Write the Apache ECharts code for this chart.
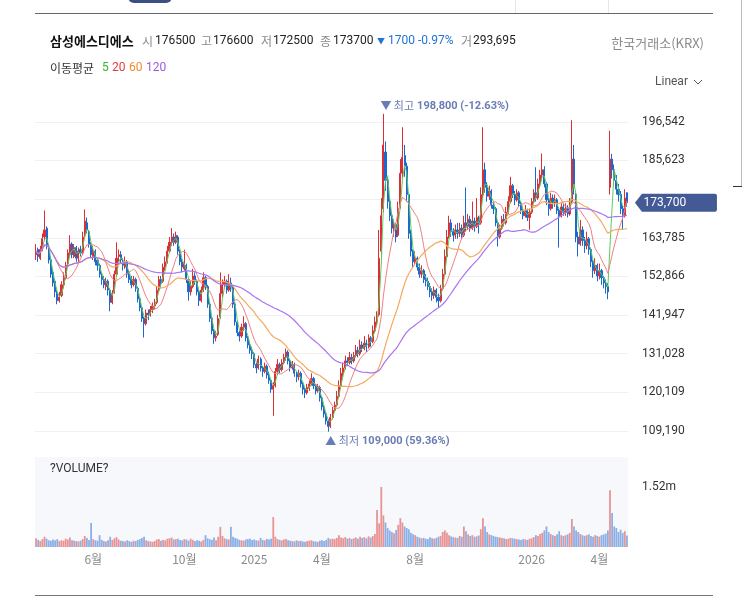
<!DOCTYPE html>
<html><head><meta charset="utf-8">
<script src="https://cdn.jsdelivr.net/npm/echarts@6/dist/echarts.min.js"></script>
<style>html,body{margin:0;padding:0;background:#fff;}#c{width:742px;height:609px;}</style>
</head><body><div id="c"></div>
<script>
// ---- data (prices in 1,000 KRW; each candle = 2 trading days) ----
const startDate = '2024-03-19';
const weekdaysPerCandle = 2;
const tickMonths = ['2024-06','2024-10','2025-01','2025-04','2025-08','2026-01','2026-04'];
const maDays = [5,20,60,120];
const maColors = ['#5fcc5f','#f08080','#f5a860','#a874f2'];

const opens = [
159.0,160.5,158.0,160.5,164.0,166.5,161.0,157.5,154.0,151.5,
148.0,146.0,147.5,150.5,152.5,156.5,159.0,162.0,158.5,161.0,
158.0,160.5,159.5,164.5,168.0,165.5,162.0,158.5,160.0,157.5,
156.0,153.0,152.0,150.0,151.5,149.0,145.5,148.5,153.5,158.5,
159.0,157.0,155.5,157.0,153.5,152.5,150.5,152.0,149.5,146.5,
144.0,141.0,139.5,142.5,142.0,143.5,144.5,145.5,149.0,152.0,
151.5,155.5,157.0,160.0,162.5,164.0,162.5,164.0,160.0,157.0,
155.0,156.0,152.0,148.5,150.0,153.0,151.5,148.5,146.0,149.0,
152.5,150.0,145.0,141.0,137.5,135.5,136.5,141.5,148.0,150.5,
151.5,149.0,151.0,150.0,145.0,140.0,137.0,136.0,138.5,139.5,
135.5,133.5,132.0,131.0,128.0,127.0,129.5,127.0,126.0,127.5,
125.0,123.5,121.0,122.0,126.0,128.0,126.5,128.5,130.0,131.5,
129.0,127.0,128.0,125.5,124.5,125.5,122.5,121.0,120.0,121.5,
122.5,124.0,122.0,120.5,121.5,118.5,116.0,114.0,112.0,110.5,
113.0,115.0,116.5,119.0,122.0,125.5,127.0,129.0,128.5,130.0,
129.0,130.5,132.0,131.0,133.5,132.5,134.0,133.0,135.5,134.5,
137.5,140.0,142.0,160.0,172.0,188.0,180.0,174.0,170.0,166.5,
167.5,164.5,172.5,182.0,187.0,184.0,176.0,165.0,160.0,157.0,
158.0,155.5,153.5,154.5,152.0,151.5,150.0,148.5,147.5,149.0,
147.0,146.0,149.5,153.5,158.5,164.0,168.0,165.5,164.5,166.0,
165.0,166.5,164.5,168.0,167.0,169.0,166.5,168.5,167.0,169.5,
168.0,176.0,183.0,178.0,175.5,177.0,173.0,172.0,168.0,164.0,
166.5,169.0,168.0,171.0,174.0,178.5,176.0,174.5,176.5,173.5,
171.5,170.0,171.5,169.5,171.0,174.0,176.5,175.0,179.0,181.5,
183.0,179.0,174.5,172.0,175.0,173.5,174.5,171.5,170.0,172.5,
171.0,172.0,170.5,174.0,186.0,176.0,164.0,162.0,166.0,163.0,
161.5,163.5,160.5,157.0,154.5,156.0,153.0,154.5,152.5,151.0,
150.0,178.0,186.0,183.0,180.0,177.5,176.0,172.0,170.0,176.5];

const closes = [
160.0,158.5,160.5,163.5,166.0,161.5,157.5,153.5,151.0,148.5,
146.0,147.0,150.5,152.5,156.0,159.5,162.0,159.0,161.0,158.0,
160.0,159.5,164.0,168.5,166.0,162.0,159.0,160.0,157.0,156.0,
153.5,152.0,150.5,151.5,149.0,145.5,148.0,153.5,158.0,159.0,
157.5,156.0,157.0,153.5,152.0,150.5,152.0,149.5,146.5,144.0,
141.0,139.5,142.5,142.0,143.5,144.5,145.5,149.0,152.0,151.0,
155.5,157.0,160.0,162.5,164.0,162.5,164.5,160.0,157.0,155.5,
156.5,152.0,148.5,150.0,153.0,151.5,148.5,146.0,149.0,152.5,
150.0,145.0,141.0,137.5,135.5,136.0,141.0,148.0,150.5,151.5,
149.0,151.0,150.0,145.0,140.0,137.0,136.0,138.5,139.5,135.5,
133.5,132.0,131.0,128.0,127.0,129.5,127.0,126.0,127.5,125.0,
123.5,121.0,122.0,126.0,128.0,126.5,128.5,130.0,131.5,129.0,
127.0,128.0,125.5,124.5,125.5,122.5,121.0,120.0,121.5,122.5,
124.0,122.0,120.5,121.5,118.5,116.0,114.0,112.0,110.5,113.0,
115.0,116.5,119.0,122.0,125.5,127.0,129.0,128.5,130.0,129.0,
130.5,132.0,131.0,133.5,132.5,134.0,133.0,135.5,134.5,137.5,
140.0,141.0,158.0,170.0,190.0,180.0,174.0,170.0,166.5,167.5,
164.0,172.0,182.0,186.5,184.0,176.0,165.0,160.0,157.0,158.0,
155.5,153.5,154.5,152.0,151.5,150.0,148.5,147.5,149.0,147.0,
146.0,149.5,153.5,158.5,164.0,168.0,165.5,164.5,166.0,165.0,
166.5,164.5,168.0,167.0,169.0,166.5,168.5,167.0,169.5,167.5,
176.0,183.0,178.0,175.5,177.0,173.0,172.0,168.0,164.0,166.5,
169.0,168.0,171.0,174.0,178.5,176.0,174.5,176.5,173.5,171.5,
170.0,171.5,169.5,171.0,174.0,176.5,175.0,179.0,181.5,183.0,
179.0,174.5,172.0,175.0,173.5,174.5,171.5,170.0,172.5,171.0,
172.0,170.5,173.0,186.0,178.0,164.0,162.0,166.0,163.0,161.5,
163.5,160.5,157.0,154.5,156.0,153.0,154.5,152.5,151.0,150.0,
148.5,186.0,183.0,180.0,177.5,176.0,172.0,170.0,175.0,173.7];

const lows = [
157.5,157.0,157.5,160.0,163.0,160.5,156.5,152.5,150.0,147.0,
145.0,145.5,147.0,149.5,152.0,155.5,158.5,158.0,158.0,157.0,
157.0,158.5,159.0,164.0,165.0,161.0,158.0,157.5,156.0,154.5,
152.5,150.5,149.5,149.0,147.5,143.0,145.0,148.0,153.0,157.0,
156.5,154.5,155.0,152.5,151.0,149.5,150.0,148.5,145.5,143.0,
140.0,135.6,139.0,140.5,141.5,142.5,143.5,145.0,148.5,149.5,
151.0,154.5,156.5,159.5,161.5,161.5,162.0,159.0,156.0,154.0,
154.5,151.0,146.0,147.5,149.5,150.5,147.5,144.5,145.5,148.5,
149.0,144.0,140.0,136.5,133.8,134.5,136.0,141.0,147.0,149.5,
148.0,148.5,148.5,144.0,139.0,136.0,134.5,135.5,137.5,134.5,
132.5,131.0,129.5,127.0,125.5,126.5,126.0,124.5,125.5,124.0,
122.5,120.0,113.5,121.5,125.0,125.5,126.0,128.0,129.0,128.0,
126.0,126.5,124.5,123.0,123.5,121.5,119.5,118.5,119.5,120.5,
122.0,121.0,119.5,120.0,117.5,115.0,113.0,111.0,109.0,110.0,
112.5,114.5,116.0,118.5,121.0,124.5,126.5,127.5,128.0,128.0,
128.5,130.0,130.0,130.5,131.5,132.0,131.5,132.5,133.0,134.0,
137.0,139.0,141.5,158.0,171.0,177.0,172.0,168.5,165.0,164.0,
162.5,164.0,172.0,180.5,181.0,174.0,163.5,158.5,155.5,156.0,
154.5,152.5,152.5,151.0,150.0,149.0,147.0,146.0,146.5,145.5,
144.2,145.5,149.0,153.0,158.0,163.5,164.0,162.7,163.5,163.5,
164.0,163.5,164.0,165.5,166.0,165.5,166.0,165.5,166.5,165.0,
167.5,175.0,176.5,174.0,174.5,172.0,170.5,167.0,161.3,163.5,
166.0,167.0,167.5,170.5,173.5,175.0,173.0,174.0,172.5,170.5,
169.0,169.5,168.5,166.0,170.5,173.5,174.0,174.5,178.0,180.0,
178.0,173.0,170.0,171.5,172.0,172.5,170.5,161.0,169.5,170.0,
170.0,169.5,170.0,173.5,176.0,162.5,158.5,161.5,161.5,159.5,
160.5,159.0,155.5,152.5,153.5,151.5,152.0,150.5,149.5,148.0,
146.4,176.0,180.5,178.5,176.0,174.0,170.5,166.0,169.5,172.5];

const highs = [
162.0,161.0,161.5,165.0,171.5,167.0,162.0,158.5,155.0,152.0,
149.0,148.5,151.5,154.0,157.0,160.5,164.5,162.5,162.0,161.5,
161.0,161.5,165.5,171.8,169.5,166.0,162.5,161.5,160.5,158.0,
156.5,154.0,153.0,152.5,152.0,149.5,149.0,154.5,162.5,160.5,
160.0,158.0,158.5,157.5,154.5,153.0,153.0,152.5,150.0,147.0,
144.5,141.5,143.5,143.5,144.5,145.5,146.5,150.0,153.0,153.0,
156.5,158.5,161.5,164.0,166.5,165.0,165.5,164.5,160.5,158.0,
160.4,156.5,152.5,151.5,155.0,154.0,152.0,149.0,150.0,154.0,
153.0,150.5,145.5,141.5,138.0,137.5,142.0,154.0,152.0,153.0,
152.0,153.5,152.5,150.5,145.5,140.5,137.5,139.5,141.6,140.0,
136.0,134.5,133.0,131.5,128.5,130.5,130.0,127.5,128.5,128.0,
126.0,124.0,123.0,127.0,129.5,128.5,129.5,131.0,132.5,132.0,
129.5,129.0,128.5,126.0,126.5,126.0,123.0,121.5,122.5,123.5,
125.5,124.5,122.5,122.5,122.0,119.0,116.5,114.5,112.5,114.0,
116.0,117.5,120.5,123.5,127.0,128.5,130.5,130.0,131.5,131.0,
131.5,133.5,133.0,135.0,134.5,136.0,135.0,136.5,136.0,139.0,
141.5,143.0,166.0,175.0,198.8,191.0,181.0,175.0,171.0,169.0,
168.0,174.0,186.0,195.0,190.0,185.0,176.5,166.0,160.5,160.0,
158.5,156.5,156.0,155.0,153.5,152.5,151.0,149.5,150.0,149.5,
148.0,150.5,155.0,160.5,166.0,170.0,169.0,166.5,167.5,168.0,
168.0,167.5,170.0,178.0,170.5,170.0,174.0,169.5,175.0,170.0,
178.0,195.0,185.0,179.5,178.5,177.5,174.0,172.5,168.5,167.5,
170.0,170.5,172.5,175.5,181.0,179.0,177.0,177.5,177.0,174.0,
172.0,173.0,172.0,172.0,175.0,177.5,183.7,180.5,183.0,187.6,
184.0,179.5,175.0,176.5,176.0,176.0,175.0,172.0,173.5,173.5,
173.5,173.0,175.0,197.0,190.0,176.5,165.5,168.8,167.0,164.0,
165.5,164.0,161.0,157.5,158.0,156.5,156.5,155.0,153.0,152.0,
151.0,194.0,187.5,184.5,181.5,179.0,177.0,173.0,177.5,176.6];

// volume in thousand shares
const volumes = [
220,180,150,200,260,210,170,160,190,170,
200,150,170,160,210,190,240,170,160,150,
140,160,200,280,230,180,610,200,170,160,
300,180,150,140,170,260,180,220,250,190,
160,150,140,170,150,130,160,150,180,200,
230,260,170,150,140,130,150,190,200,160,
180,170,210,220,240,190,200,210,180,170,
200,190,160,210,180,150,170,160,140,180,
300,220,200,180,240,170,260,510,280,220,
200,190,510,260,230,210,180,170,160,190,
200,210,180,190,170,160,230,180,170,200,
190,210,760,260,200,180,170,190,200,170,
160,150,140,170,150,160,140,130,150,160,
170,150,140,130,160,170,150,180,230,200,
210,200,230,300,240,220,250,210,230,200,
220,240,210,260,230,250,220,270,240,280,
330,940,600,1520,800,620,480,420,380,350,
430,560,730,620,520,480,450,360,320,300,
260,240,220,230,210,200,250,220,210,230,
260,280,380,420,360,300,270,250,240,230,
280,260,520,400,320,280,300,260,270,290,
450,730,520,380,320,300,280,260,250,240,
230,220,200,210,230,220,210,200,190,180,
200,190,180,210,220,250,300,280,330,360,
420,520,380,330,300,280,320,400,300,280,
300,320,360,710,520,420,380,330,300,280,
300,320,280,260,300,280,260,300,320,340,
420,1440,860,520,480,380,440,360,400,294];

// ---- build ----
const N = closes.length;
function buildDates(n){
  const out=[]; const d=new Date(startDate+'T00:00:00Z'); let w=0;
  while(out.length<n){
    const wd=d.getUTCDay();
    if(wd!==0&&wd!==6){ if(w%weekdaysPerCandle===0) out.push(d.toISOString().slice(0,10)); w++; }
    d.setUTCDate(d.getUTCDate()+1);
  }
  return out;
}
const dates = buildDates(N);
const labelIdx = new Set(tickMonths.map(m=>dates.findIndex(s=>s.startsWith(m))));
const K = v=>Math.round(v*1000);
const candleData = opens.map((o,i)=>[K(o),K(closes[i]),K(lows[i]),K(highs[i])]);
function movingAverage(days){
  const p=Math.round(days/weekdaysPerCandle);
  return closes.map((_,i)=>{const s=Math.max(0,i-p+1);let sum=0;for(let k=s;k<=i;k++)sum+=closes[k];return Math.round(sum/(i-s+1)*1000);});
}
const UP='#dc2f35', DOWN='#1b68cf';
const volData = volumes.map((v,i)=>({value:v, itemStyle:{color: closes[i]>=opens[i]?'rgba(228,122,122,0.8)':'rgba(112,158,224,0.8)'}}));

let hi=0, lo=0;
highs.forEach((h,i)=>{if(h>highs[hi])hi=i;}); lows.forEach((l,i)=>{if(l<lows[lo])lo=i;});
const last = N-1;
const lastClose = K(closes[last]);
const fmt = v=>v.toLocaleString('en-US');
const hiPct = ((closes[last]-highs[hi])/highs[hi]*100).toFixed(2);
const loPct = ((closes[last]-lows[lo])/lows[lo]*100).toFixed(2);
const tagLevel = 174704; // grid level hidden behind the last-price tag

const FONT = 'Roboto, "Noto Sans CJK KR", sans-serif';
const KFONT = '"Noto Sans CJK KR", Roboto, sans-serif';
function T(x,y,text,size,color,weight,align,fam){
  return {type:'text', x:x, y:y, silent:true, style:{text:text, fontSize:size, fontFamily:fam||KFONT, fontWeight:weight||'normal', fill:color, align:align||'left', verticalAlign:'middle'}};
}
function L(x1,y1,x2,y2,c,w){return {type:'line', silent:true, shape:{x1,y1,x2,y2}, style:{stroke:c, lineWidth:w||1}};}

const chart = echarts.init(document.getElementById('c'), null, {renderer:'canvas'});
const gridTop = 83.15, gridH = 386.5;
chart.setOption({
  animation:false,
  backgroundColor:'#fff',
  textStyle:{fontFamily:FONT},
  grid:[
    {left:35, right:114, top:gridTop, height:gridH},
    {left:35, right:114, top:457, height:90, show:true, backgroundColor:'#f7f8fb', borderWidth:0}
  ],
  xAxis:[
    {type:'category', gridIndex:0, data:dates, boundaryGap:true, axisLine:{show:false}, axisTick:{show:false}, axisLabel:{show:false}, splitLine:{show:false}},
    {type:'category', gridIndex:1, data:dates, boundaryGap:true, axisLine:{show:false}, axisTick:{show:false},
     axisLabel:{interval:(i)=>labelIdx.has(i), color:'#8a8a8a', fontSize:12, margin:6, fontFamily:KFONT,
       formatter:(v)=>{const p=v.split('-');return p[1]==='01'?p[0]:(+p[1])+'월';}}, splitLine:{show:false}}
  ],
  yAxis:[
    {type:'value', gridIndex:0, position:'right', min:98271, max:207461, interval:10919,
     axisLine:{show:false}, axisTick:{show:false},
     axisLabel:{color:'#333', fontSize:12, margin:14, showMinLabel:false, showMaxLabel:false, formatter:v=>v===tagLevel?'':fmt(v)},
     splitLine:{show:true, showMinLine:false, showMaxLine:false, lineStyle:{color:'#eef0f3', width:1}}},
    {type:'value', gridIndex:1, position:'right', min:0, max:2280,
     axisLine:{show:false}, axisTick:{show:false}, splitLine:{show:false},
     axisLabel:{customValues:[1520], color:'#333', fontSize:12, margin:14, formatter:()=> '1.52m'}}
  ],
  series:[
    {type:'candlestick', name:'price', xAxisIndex:0, yAxisIndex:0, data:candleData, barWidth:1.6, z:2,
     itemStyle:{color:UP, color0:DOWN, borderColor:UP, borderColor0:DOWN, borderWidth:1},
     markPoint:{silent:true, animation:false, data:[
       {coord:[dates[hi], K(highs[hi])], symbol:'circle', symbolSize:1, itemStyle:{color:'rgba(0,0,0,0)'},
        label:{show:true, position:'top', distance:1, align:'left', offset:[-3,0],
          formatter:'{a|▼ 최고} {b|'+fmt(K(highs[hi]))+' ('+hiPct+'%)}',
          rich:{a:{color:'#6a7cb4', fontSize:11, fontFamily:KFONT}, b:{color:'#6a7cb4', fontSize:11, fontWeight:'bold', fontFamily:FONT}}}},
       {coord:[dates[lo], K(lows[lo])], symbol:'circle', symbolSize:1, itemStyle:{color:'rgba(0,0,0,0)'},
        label:{show:true, position:'bottom', distance:3, align:'left', offset:[-3,0],
          formatter:'{a|▲ 최저} {b|'+fmt(K(lows[lo]))+' ('+loPct+'%)}',
          rich:{a:{color:'#6a7cb4', fontSize:11, fontFamily:KFONT}, b:{color:'#6a7cb4', fontSize:11, fontWeight:'bold', fontFamily:FONT}}}},
       {coord:[dates[last], lastClose], symbol:'path://M0,9L7,0L80,0Q82,0 82,2L82,16Q82,18 80,18L7,18Z', symbolSize:[82,18], symbolOffset:[49,0], symbolKeepAspect:false,
        itemStyle:{color:'#435a96'},
        label:{show:true, position:'inside', color:'#fff', fontSize:12, offset:[-11,0], formatter:fmt(lastClose)}}
     ]}},
    ...maDays.map((d,k)=>({type:'line', name:'MA'+d, xAxisIndex:0, yAxisIndex:0, data:movingAverage(d), showSymbol:false, symbol:'none', z:3+k,
       lineStyle:{color:maColors[k], width:k>=2?1.2:1}, silent:true})),
    {type:'bar', name:'volume', xAxisIndex:1, yAxisIndex:1, data:volData, barWidth:1.8, silent:true}
  ],
  graphic:[
    L(35,13.5,713,13.5,'#666',1),
    L(35,595.5,713,595.5,'#777',1),
    L(515.5,0,515.5,13,'#e6e6e6',1),
    L(608.5,0,608.5,13,'#e6e6e6',1),
    L(741.5,0,741.5,186,'#bbb',1),
    L(733,186.5,742,186.5,'#333',1),
    {type:'rect', silent:true, shape:{x:128,y:-10,width:44,height:13,r:6}, style:{fill:'#3c4f85'}},
    T(50,41,'삼성에스디에스',13,'#111','bold'),
    T(142,41,'시',12,'#8a8a8a'), T(155,41,'176500',12,'#222','normal','left',FONT),
    T(201,41,'고',12,'#8a8a8a'), T(213,41,'176600',12,'#222','normal','left',FONT),
    T(261,41,'저',12,'#8a8a8a'), T(273,41,'172500',12,'#222','normal','left',FONT),
    T(320,41,'종',12,'#8a8a8a'), T(333,41,'173700',12,'#222','normal','left',FONT),
    T(377,41,'▼',8,'#1f74d6'), T(388,41,'1700',12,'#1f74d6','normal','left',FONT), T(418,41,'-0.97%',12,'#1f74d6','normal','left',FONT),
    T(461,41,'거',12,'#8a8a8a'), T(473,41,'293,695',12,'#222','normal','left',FONT),
    T(704,43,'한국거래소(KRX)',13,'#8a8a8a','normal','right'),
    T(50,68,'이동평균',12,'#333'),
    T(102,68,'5',12,'#2fb52f','normal','left',FONT), T(112,68,'20',12,'#e2393f','normal','left',FONT),
    T(129,68,'60',12,'#ef8a2c','normal','left',FONT), T(146,68,'120',12,'#9a5ae0','normal','left',FONT),
    T(655,82,'Linear',12,'#555','normal','left',FONT),
    {type:'polyline', silent:true, shape:{points:[[694,80],[698,84],[702,80]]}, style:{stroke:'#555', lineWidth:1, fill:null}},
    T(50,469,'?VOLUME?',12,'#333','normal','left',FONT)
  ]
});
</script></body></html>
